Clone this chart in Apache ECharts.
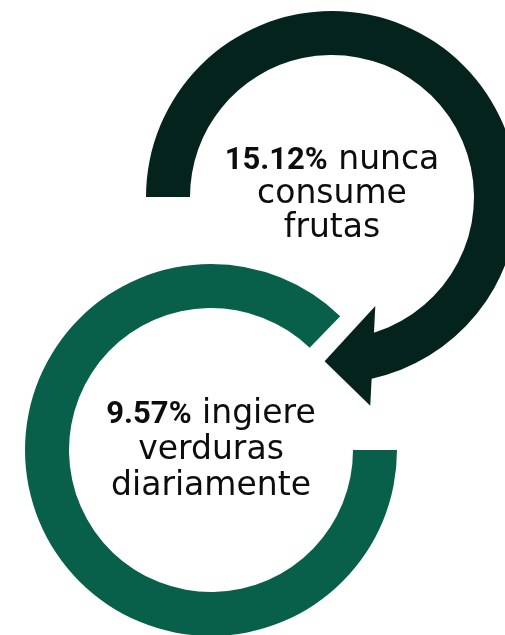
<!DOCTYPE html>
<html>
<head>
<meta charset="utf-8">
<script src="https://cdn.jsdelivr.net/npm/echarts@6/dist/echarts.min.js"></script>
<style>
  html, body { margin: 0; padding: 0; background: #ffffff; }
  #chart { width: 505px; height: 635px; }
</style>
</head>
<body>
<div id="chart"></div>
<script>
// ---- data ----
const statValues = ['15.12%', '9.57%'];
const statLines = [['nunca', 'consume', 'frutas'], ['ingiere', 'verduras', 'diariamente']];
const ringColors = ['#03231c', '#08604b'];
// decorative arc extents (degrees), start angle and direction
const arcSweeps = [258, 314];
const arcStarts = [180, 0];

// ---- layout ----
const centers = [[332, 197], [211, 450]];
const radii = [142, 186];
const lineHeights = [34, 36];
const labelOffsets = [[0, -3], [0, -1]];
const rMid = (radii[0] + radii[1]) / 2;
// arrow head parameters (top ring), screen-angle degrees
const headBaseAngle = 75.6, headNormal = 92.9, headTipDir = 173.7, headHalf = 50, headLen = 48.5;

const FONT = 'DejaVu Sans';
const BOLD_FONT = 'Roboto';

function pieFor(i) {
  const sweep = arcSweeps[i];
  const lh = lineHeights[i];
  return {
    type: 'pie',
    silent: true,
    center: centers[i],
    radius: radii,
    startAngle: arcStarts[i],
    clockwise: true,
    avoidLabelOverlap: false,
    minAngle: 0,
    z: 2,
    labelLine: { show: false },
    emphasis: { disabled: true },
    data: [
      {
        value: sweep,
        name: statValues[i],
        itemStyle: { color: ringColors[i], borderWidth: 0 },
        label: {
          show: true,
          position: 'center',
          offset: labelOffsets[i],
          formatter: () => '{b|' + statValues[i] + '}{r| ' + statLines[i][0] + '}\n{r|' + statLines[i][1] + '}\n{r|' + statLines[i][2] + '}',
          align: 'center',
          rich: {
            b: { fontFamily: BOLD_FONT, fontSize: 31, fontWeight: 'bold', color: '#0d0d0d', lineHeight: lh, verticalAlign: 'bottom' },
            r: { fontFamily: FONT, fontSize: 33, fontWeight: 'normal', color: '#0d0d0d', lineHeight: lh, verticalAlign: 'bottom' }
          }
        }
      },
      {
        value: 360 - sweep,
        name: 'gap' + i,
        itemStyle: { color: 'rgba(0,0,0,0)', borderWidth: 0 },
        label: { show: false }
      }
    ]
  };
}

function rad(d) { return d * Math.PI / 180; }
const c0 = centers[0];
const M = [c0[0] + rMid * Math.cos(rad(headBaseAngle)), c0[1] + rMid * Math.sin(rad(headBaseAngle))];
const nrm = [Math.cos(rad(headNormal)), Math.sin(rad(headNormal))];
const tipv = [Math.cos(rad(headTipDir)), Math.sin(rad(headTipDir))];
const headPts = [
  [M[0] - headHalf * nrm[0], M[1] - headHalf * nrm[1]],
  [M[0] + headLen * tipv[0], M[1] + headLen * tipv[1]],
  [M[0] + headHalf * nrm[0], M[1] + headHalf * nrm[1]]
];

const chart = echarts.init(document.getElementById('chart'), null, { renderer: 'canvas' });
chart.setOption({
  animation: false,
  backgroundColor: '#ffffff',
  series: [pieFor(0), pieFor(1)],
  graphic: [{
    type: 'polygon',
    z: 10,
    silent: true,
    shape: { points: headPts },
    style: { fill: ringColors[0] }
  }]
});
</script>
</body>
</html>
